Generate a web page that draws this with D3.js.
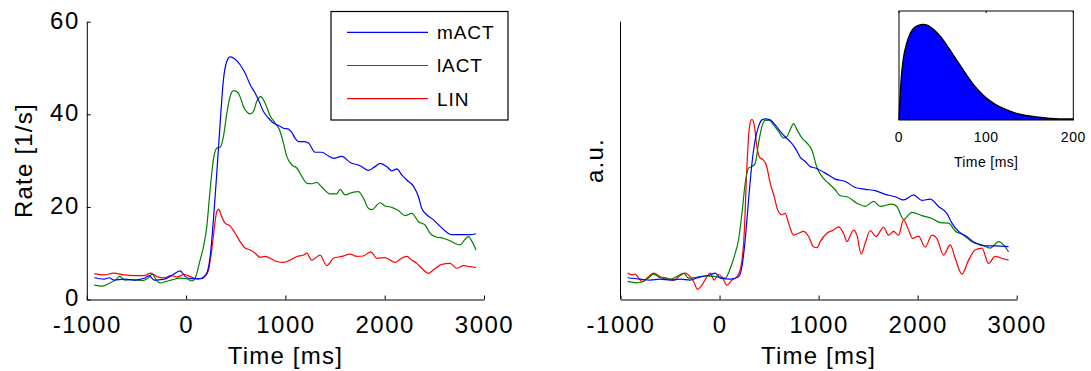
<!DOCTYPE html>
<html>
<head>
<meta charset="utf-8">
<script src="https://cdn.jsdelivr.net/npm/d3@7"></script>
<style>
  body { margin: 0; background: #fff; }
  text { font-family: "Liberation Sans", Arial, sans-serif; fill: #000; }
  .tick text { letter-spacing: 1.5px; }
  .domain, .tick line { stroke: #000; }
</style>
</head>
<body>
<div id="container"></div>
<script>
// ---- data (time in ms, rate in 1/s) ----
const tickTimes = [-1000, 0, 1000, 2000, 3000];
const rateTicks = [0, 20, 40, 60];
const seriesNames = ["mACT", "lACT", "LIN"];
const seriesColors = ["#0000ff", "#008000", "#ff0000"];

const leftMACT = [[-925,4.7],[-826,4.4],[-775,4.7],[-725,4.2],[-624,4.4],[-523,4.2],[-423,4.6],[-372,5.1],[-322,4.2],[-221,4.4],[-137,5.3],[-60,6.2],[-10,5.0],[47,4.5],[148,4.5],[208,5.7],[242,9.2],[275,17.2],[309,27.3],[343,38.1],[376,47.5],[410,51.4],[443,52.4],[494,51.9],[544,50.7],[594,48.9],[645,46.4],[695,44.6],[729,43.1],[779,40.6],[829,39.2],[880,38.1],[930,37.6],[980,37.0],[1031,36.8],[1064,36.1],[1098,34.8],[1131,34.1],[1182,34.1],[1232,33.8],[1299,31.8],[1366,31.8],[1433,31.0],[1484,30.5],[1568,30.9],[1652,29.6],[1752,28.9],[1836,27.9],[1903,28.7],[1954,29.4],[2021,28.7],[2071,27.8],[2122,28.2],[2172,26.9],[2222,25.8],[2289,24.5],[2340,22.2],[2373,19.7],[2424,18.3],[2491,17.2],[2558,15.8],[2625,14.5],[2675,14.0],[2759,14.0],[2860,14.0],[2920,14.2]];

const leftLACT = [[-925,3.1],[-842,2.9],[-775,3.5],[-700,4.4],[-668,5.0],[-620,4.2],[-570,4.3],[-500,4.2],[-430,4.1],[-385,4.6],[-340,5.5],[-300,4.2],[-260,3.6],[-200,3.9],[-150,4.2],[-60,4.6],[0,4.5],[60,4.0],[91,4.6],[141,8.5],[175,11.4],[208,15.7],[242,23.7],[275,30.2],[309,32.7],[343,32.9],[376,35.2],[410,40.2],[443,43.8],[477,45.1],[510,44.9],[544,43.8],[577,41.7],[618,40.4],[645,40.1],[678,40.6],[712,42.8],[752,43.8],[796,42.4],[846,39.7],[896,38.1],[947,36.3],[980,33.8],[1014,30.9],[1064,29.1],[1115,28.4],[1165,26.6],[1215,25.1],[1266,25.0],[1316,25.3],[1366,24.3],[1450,22.8],[1517,22.8],[1551,23.8],[1601,22.6],[1668,23.1],[1735,23.3],[1786,21.9],[1836,19.7],[1870,19.4],[1954,20.9],[2004,20.2],[2071,19.9],[2138,19.2],[2205,18.1],[2273,18.6],[2340,16.8],[2407,16.1],[2457,14.3],[2507,13.6],[2592,13.2],[2659,12.7],[2709,12.1],[2759,11.8],[2810,13.0],[2843,13.6],[2880,12.5],[2920,10.7]];

const leftLIN = [[-925,5.6],[-826,5.3],[-725,5.7],[-624,5.3],[-523,5.15],[-423,5.15],[-356,5.7],[-288,4.9],[-221,4.7],[-154,5.15],[-87,4.9],[-20,5.4],[47,4.9],[114,4.4],[198,5.2],[230,6.8],[260,11.0],[290,16.5],[309,19.0],[326,19.5],[359,17.9],[393,16.5],[443,15.9],[494,14.3],[544,12.5],[594,11.1],[645,10.7],[695,10.0],[745,9.1],[796,9.3],[846,8.9],[913,8.2],[980,8.0],[1047,8.5],[1115,9.3],[1182,9.6],[1215,10.0],[1265,8.5],[1349,9.6],[1417,7.3],[1484,8.9],[1568,9.3],[1652,9.8],[1719,9.3],[1786,9.4],[1860,10.3],[1920,8.9],[2004,9.05],[2105,8.0],[2155,8.7],[2222,9.3],[2273,8.5],[2323,7.8],[2373,6.75],[2440,5.66],[2491,6.4],[2575,7.6],[2659,7.8],[2726,6.75],[2793,7.3],[2860,7.1],[2920,6.9]];

const rightMACT = [[-928,4.7],[-801,4.4],[-700,4.2],[-599,4.4],[-498,4.2],[-397,4.4],[-296,4.2],[-195,4.9],[-94,5.3],[-43,5.7],[7,4.6],[108,4.4],[192,4.9],[226,7.1],[259,12.9],[293,21.5],[327,29.4],[360,34.5],[394,37.4],[428,38.8],[461,39.0],[512,38.8],[562,37.7],[613,36.3],[663,35.1],[714,34.1],[764,32.7],[815,30.7],[865,29.8],[916,28.7],[966,28.4],[1067,27.3],[1168,26.0],[1269,25.5],[1370,24.2],[1471,23.8],[1572,23.5],[1673,22.7],[1774,22.2],[1858,21.5],[1959,22.6],[2043,21.4],[2127,21.7],[2211,20.1],[2295,18.6],[2346,16.5],[2413,14.7],[2497,13.6],[2581,12.2],[2682,11.6],[2783,11.6],[2918,11.4]];

const rightLACT = [[-928,3.9],[-834,3.6],[-767,3.9],[-716,4.7],[-666,5.5],[-599,4.7],[-498,4.4],[-414,5.15],[-363,5.7],[-313,4.6],[-229,4.8],[-128,5.1],[-27,4.9],[57,4.6],[108,6.7],[158,10.0],[192,12.9],[226,18.6],[259,25.1],[293,28.4],[327,28.7],[360,29.4],[394,33.8],[428,37.4],[461,38.7],[505,38.7],[545,37.7],[596,36.3],[646,34.9],[680,35.2],[714,36.7],[747,38.0],[781,36.7],[831,34.9],[882,33.8],[932,32.3],[983,28.5],[1033,26.6],[1101,25.1],[1168,23.7],[1218,22.4],[1286,22.2],[1387,20.8],[1471,20.1],[1555,21.2],[1622,20.1],[1740,20.6],[1790,20.1],[1858,17.3],[1942,18.8],[2043,18.1],[2144,17.5],[2228,16.6],[2312,16.5],[2379,14.8],[2463,13.9],[2548,12.5],[2649,11.8],[2733,11.1],[2817,12.5],[2867,11.8],[2918,10.3]];

const rightLIN = [[-928,5.7],[-885,5.3],[-851,5.5],[-817,4.6],[-784,3.9],[-733,4.6],[-666,5.7],[-599,4.9],[-531,4.6],[-464,4.1],[-414,4.9],[-346,5.7],[-296,4.9],[-262,3.9],[-222,2.2],[-178,3.1],[-128,4.9],[-94,5.7],[-54,4.2],[-10,5.4],[24,4.9],[74,3.1],[125,4.2],[175,4.9],[216,7.1],[249,14.3],[276,28.7],[303,37.4],[327,38.9],[350,37.7],[377,33.0],[404,30.7],[438,30.2],[471,29.1],[512,25.1],[552,22.2],[586,19.4],[630,18.3],[663,18.6],[697,16.5],[747,13.9],[798,14.3],[848,14.7],[899,13.6],[949,11.4],[985,11.2],[1016,12.5],[1084,14.3],[1151,15.0],[1202,15.7],[1252,14.3],[1286,12.5],[1353,15.0],[1387,13.9],[1430,9.8],[1471,12.2],[1521,14.9],[1578,13.6],[1656,15.6],[1706,13.9],[1757,14.7],[1807,13.9],[1858,17.2],[1908,15.0],[1949,13.2],[2009,13.7],[2076,11.3],[2144,13.9],[2194,13.2],[2261,9.6],[2329,11.8],[2379,8.9],[2447,5.5],[2514,8.5],[2581,10.7],[2649,11.1],[2716,7.8],[2783,9.3],[2850,8.9],[2918,8.5]];

// inset kernel (ms, normalised height)
const kernelT = [0,1.1,3.1,5,8.8,12.6,16.4,22.2,27.9,33.6,39.4,47,54.7,62.3,70,77.6,85.3,92.9,100.6,110,119.7,131.2,142.6,158,173.3,200];
const kernelV = [0,0.21,0.49,0.64,0.80,0.90,0.955,0.99,1.0,0.986,0.948,0.878,0.784,0.679,0.575,0.47,0.373,0.293,0.226,0.167,0.122,0.08,0.052,0.031,0.017,0.01];
const kernelTicks = [0, 100, 200];

var W = 1091, H = 371;

var svg = d3.select("#container").append("svg")
    .attr("width", W)
    .attr("height", H);

svg.append("rect").attr("width", W).attr("height", H).attr("fill", "#fff");

var yTop = 21.7, yBot = 299.5;

// plain hyphen for negatives, like the original
var fmt = function(d){ return String(d); };

var panel = function(x0, x1, series, opts){
    var x = d3.scaleLinear().domain([-1000, 3000]).range([x0, x1]);
    var y = d3.scaleLinear().domain([0, 60]).range([yBot, yTop]);
    var g = svg.append("g");

    var line = d3.line()
	.x(function(d){ return x(d[0]); })
	.y(function(d){ return y(d[1]); })
	.curve(d3.curveMonotoneX);

    // draw in reverse so blue ends on top
    series.slice().reverse().forEach(function(s){
	g.append("path")
	    .attr("d", line(s.data))
	    .attr("fill", "none")
	    .attr("stroke", s.color)
	    .attr("stroke-width", 1.2);
    });

    var xa = g.append("g")
	.attr("transform", "translate(0," + yBot + ")")
	.call(d3.axisBottom(x).tickValues(tickTimes).tickSizeInner(-4).tickSizeOuter(0)
	      .tickPadding(16.5).tickFormat(fmt));
    xa.selectAll("text").style("font-size", "24px");

    if (opts.yticks){
	var ya = g.append("g")
	    .attr("transform", "translate(" + x0 + ",0)")
	    .call(d3.axisLeft(y).tickValues(rateTicks).tickSizeInner(-4).tickSizeOuter(0).tickPadding(7));
	ya.selectAll("text").style("font-size", "24px").attr("dy", "0.27em");
    } else {
	g.append("line")
	    .attr("x1", x0).attr("x2", x0)
	    .attr("y1", yTop).attr("y2", yBot)
	    .attr("stroke", "#000");
    }
    g.selectAll(".domain").attr("stroke", "#000");

    g.append("text")
	.attr("x", (x0 + x1) / 2)
	.attr("y", 364)
	.attr("text-anchor", "middle")
	.style("font-size", "24px")
	.style("letter-spacing", "1.2px")
	.text("Time [ms]");

    g.append("text")
	.attr("transform", "translate(" + opts.ylabX + "," + ((yTop + yBot) / 2) + ") rotate(-90)")
	.attr("text-anchor", "middle")
	.style("font-size", "24px")
	.style("letter-spacing", "1.2px")
	.text(opts.ylab);

    return g;
};

panel(86.8, 484, [
    {data: leftMACT, color: seriesColors[0]},
    {data: leftLACT, color: seriesColors[1]},
    {data: leftLIN, color: seriesColors[2]}
], {yticks: true, ylab: "Rate [1/s]", ylabX: 32});

panel(620.5, 1016.7, [
    {data: rightMACT, color: seriesColors[0]},
    {data: rightLACT, color: seriesColors[1]},
    {data: rightLIN, color: seriesColors[2]}
], {yticks: false, ylab: "a.u.", ylabX: 603});

// legend
var leg = svg.append("g");
leg.append("rect")
    .attr("x", 331).attr("y", 11.5)
    .attr("width", 177).attr("height", 108.5)
    .attr("fill", "#fff")
    .attr("stroke", "#000")
    .attr("stroke-width", 1.2);
var legY = d3.scalePoint().domain(seriesNames).range([32.3, 98.7]);
seriesNames.forEach(function(n, i){
    leg.append("line")
	.attr("x1", 347).attr("x2", 428)
	.attr("y1", legY(n)).attr("y2", legY(n))
	.attr("stroke", seriesColors[i])
	.attr("stroke-width", 1.2);
    leg.append("text")
	.attr("x", 437).attr("y", legY(n))
	.attr("dy", "0.36em")
	.style("font-size", "19px")
	.style("letter-spacing", "0.9px")
	.text(n);
});

// inset kernel
var ix = d3.scaleLinear().domain([0, 200]).range([899, 1073.3]);
var iy = d3.scaleLinear().domain([0, 1.14]).range([120, 11]);
var inset = svg.append("g");
var kernel = kernelT.map(function(t, i){ return [t, kernelV[i]]; });

inset.append("path")
    .attr("d", d3.area()
	  .x(function(d){ return ix(d[0]); })
	  .y0(iy(0))
	  .y1(function(d){ return iy(d[1]); })
	  .curve(d3.curveMonotoneX)(kernel))
    .attr("fill", "#0000ff");
inset.append("path")
    .attr("d", d3.line()
	  .x(function(d){ return ix(d[0]); })
	  .y(function(d){ return iy(d[1]); })
	  .curve(d3.curveMonotoneX)(kernel))
    .attr("fill", "none")
    .attr("stroke", "#000")
    .attr("stroke-width", 1.4);
inset.append("rect")
    .attr("x", ix(0)).attr("y", iy(1.14))
    .attr("width", ix(200) - ix(0)).attr("height", iy(0) - iy(1.14))
    .attr("fill", "none")
    .attr("stroke", "#000");
kernelTicks.forEach(function(t){
    inset.append("line")
	.attr("x1", ix(t)).attr("x2", ix(t))
	.attr("y1", iy(1.14)).attr("y2", iy(1.14) + 2)
	.attr("stroke", "#000");
    inset.append("text")
	.attr("x", ix(t)).attr("y", 141.7)
	.attr("text-anchor", "middle")
	.style("font-size", "14px")
	.style("letter-spacing", "0.5px")
	.text(t);
});
inset.append("text")
    .attr("x", ix(100)).attr("y", 167)
    .attr("text-anchor", "middle")
    .style("font-size", "14px")
    .style("letter-spacing", "0.4px")
    .text("Time [ms]");
</script>
</body>
</html>
